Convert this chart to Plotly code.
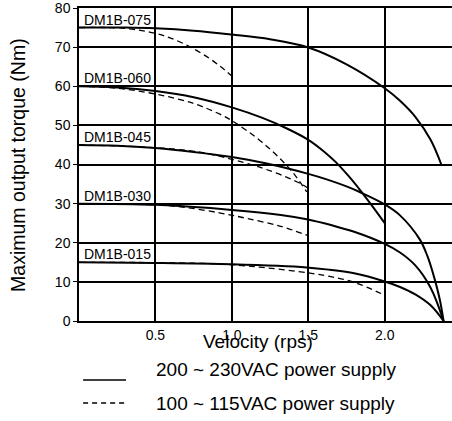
import plotly.graph_objects as go

# ---- data ----
models = ["DM1B-075", "DM1B-060", "DM1B-045", "DM1B-030", "DM1B-015"]

v075_hi = [0, 0.3, 0.5, 0.75, 1.0, 1.25, 1.5, 1.75, 2.0, 2.1, 2.2, 2.3, 2.37]
t075_hi = [75, 75, 74.8, 74.2, 73.2, 72.0, 69.9, 65.6, 59.5, 56.3, 52.2, 46.3, 40]
v075_lo = [0, 0.3, 0.5, 0.6, 0.73, 0.85, 0.93, 1.0]
t075_lo = [75, 74.8, 73.5, 72.3, 70.0, 67.2, 64.9, 62.6]

v060_hi = [0, 0.25, 0.5, 0.75, 1.0, 1.2, 1.36, 1.5, 1.6, 1.68, 1.76, 1.84, 1.92, 2.0]
t060_hi = [60, 59.7, 58.8, 57.2, 54.6, 51.9, 49.2, 46.3, 43.4, 40.6, 37.2, 33.4, 29.3, 25]
v060_lo = [0, 0.25, 0.5, 0.75, 0.925, 1.0, 1.1, 1.2, 1.3, 1.4, 1.49]
t060_lo = [60, 59.5, 58, 55.6, 52.8, 51.2, 48.6, 45.6, 42.1, 37.9, 33.0]

v045_hi = [0, 0.25, 0.5, 0.75, 1.0, 1.22, 1.5, 1.62, 1.75, 1.84, 2.0, 2.1, 2.23, 2.28, 2.32, 2.36, 2.385]
t045_hi = [45, 44.8, 44.2, 43.2, 41.9, 40.3, 37.6, 36.2, 34.4, 32.9, 29.8, 27.0, 20.8, 16.5, 11.6, 5.5, 0]
v045_lo = [0, 0.5, 0.8, 1.0, 1.14, 1.22, 1.35, 1.46, 1.5]
t045_lo = [45, 44.3, 43.1, 41.3, 39.8, 38.8, 36.9, 34.9, 33.9]

v030_hi = [0, 0.5, 1.0, 1.32, 1.49, 1.66, 1.8, 2.0, 2.1, 2.2, 2.3, 2.385]
t030_hi = [30, 29.7, 28.4, 27.1, 26.0, 24.4, 22.8, 19.7, 17.5, 14.2, 8.5, 0]
v030_lo = [0, 0.5, 0.7, 0.925, 1.1, 1.32, 1.5]
t030_lo = [30, 29.7, 29.0, 27.6, 26.2, 24.2, 21.8]

v015_hi = [0, 0.5, 1.0, 1.49, 1.64, 1.8, 2.0, 2.1, 2.2, 2.3, 2.385]
t015_hi = [15, 14.85, 14.5, 13.7, 13.1, 12.2, 10.1, 8.7, 6.8, 4.0, 0]
v015_lo = [0, 0.9, 1.2, 1.5, 1.64, 1.8, 2.0]
t015_lo = [15, 14.6, 13.7, 12.3, 11.4, 9.9, 6.6]

hi_curves = [(v075_hi, t075_hi), (v060_hi, t060_hi), (v045_hi, t045_hi),
             (v030_hi, t030_hi), (v015_hi, t015_hi)]
lo_curves = [(v075_lo, t075_lo), (v060_lo, t060_lo), (v045_lo, t045_lo),
             (v030_lo, t030_lo), (v015_lo, t015_lo)]

x_ticks = [0.5, 1.0, 1.5, 2.0]
x_tick_labels = ["0.5", "1.0", "1.5", "2.0"]
y_ticks = [0, 10, 20, 30, 40, 50, 60, 70, 80]

legend_labels = ["200 ~ 230VAC power supply", "100 ~ 115VAC power supply"]

FONT = "Arial, Liberation Sans, Helvetica, sans-serif"

fig = go.Figure()

for (vx, ty) in lo_curves:
    fig.add_trace(go.Scatter(x=vx, y=ty, mode="lines",
                             line=dict(color="black", width=1.3, dash="6px,4px",
                                       shape="spline", smoothing=1.0),
                             showlegend=False, hoverinfo="skip"))
for (vx, ty) in hi_curves:
    fig.add_trace(go.Scatter(x=vx, y=ty, mode="lines",
                             line=dict(color="black", width=2, shape="spline", smoothing=1.0),
                             showlegend=False, hoverinfo="skip"))

# model labels just above each curve start
for name, (vx, ty) in zip(models, hi_curves):
    fig.add_annotation(x=0, y=ty[0], text=name, showarrow=False,
                       xanchor="left", yanchor="middle", xshift=3, yshift=8,
                       font=dict(family=FONT, size=14, color="black"))

# axis titles
fig.add_annotation(xref="paper", yref="paper", x=0.48, y=-0.066, text="Velocity (rps)",
                   showarrow=False, xanchor="center", yanchor="middle",
                   font=dict(family=FONT, size=19, color="black"))
fig.add_annotation(xref="paper", yref="paper", x=-0.165, y=0.5,
                   text="Maximum output torque (Nm)", textangle=-90,
                   showarrow=False, xanchor="center", yanchor="middle",
                   font=dict(family=FONT, size=19.5, color="black"))

# legend keys
for i, (lab, dash, yk, yt) in enumerate(zip(legend_labels, ["solid", "5px,4px"],
                                            [-0.1885, -0.262], [-0.1565, -0.265])):
    fig.add_shape(type="line", xref="paper", yref="paper", x0=0.011, x1=0.126,
                  y0=yk, y1=yk, line=dict(color="black", width=1.3, dash=dash))
    fig.add_annotation(xref="paper", yref="paper", x=0.2, y=yt, text=lab,
                       showarrow=False, xanchor="left", yanchor="middle",
                       font=dict(family=FONT, size=19, color="black"))

fig.update_xaxes(range=[0, 2.44], tickvals=x_ticks, ticktext=x_tick_labels,
                 showgrid=True, gridcolor="black", gridwidth=1.5,
                 showline=True, linecolor="black", linewidth=1.5, mirror=True,
                 zeroline=False, ticks="", ticklen=0,
                 tickfont=dict(family=FONT, size=14, color="black"))
fig.update_yaxes(range=[0, 80], tickvals=y_ticks,
                 showgrid=True, gridcolor="black", gridwidth=1.5,
                 showline=True, linecolor="black", linewidth=1.5,
                 zeroline=False, ticks="outside", ticklen=4, tickcolor="black",
                 ticklabeloverflow="allow",
                 tickfont=dict(family=FONT, size=14, color="black"))

fig.update_layout(width=452, height=421,
                  margin=dict(l=79, r=0, t=8, b=100),
                  plot_bgcolor="white", paper_bgcolor="white",
                  showlegend=False)

fig.write_html("out.html", config={"displayModeBar": False},
               post_script="document.body.style.margin='0';document.body.style.padding='0';")
